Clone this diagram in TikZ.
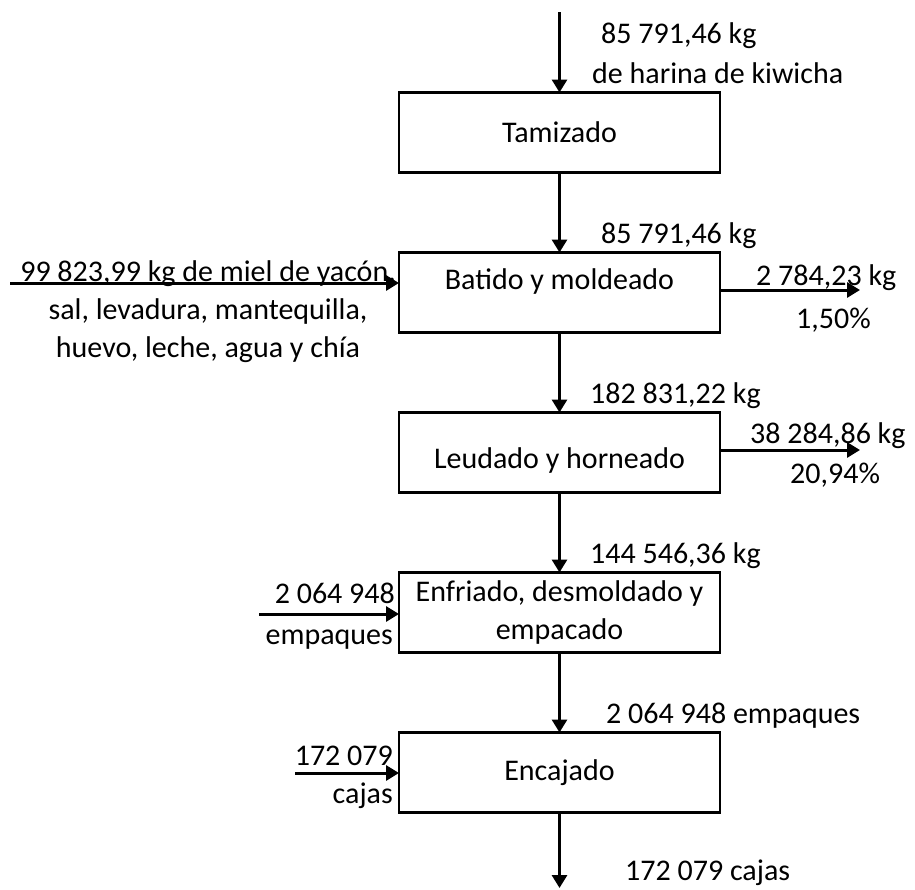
\documentclass[tikz,border=0pt]{standalone}
\usepackage{fontspec}
\setmainfont{Carlito}
\usetikzlibrary{arrows.meta,positioning}

\begin{document}
\begin{tikzpicture}[
  x=1pt, y=-1pt,
  font=\fontsize{30}{38}\selectfont,
  node distance=80pt,
  box/.style={draw, line width=2.5pt, minimum width=321pt, minimum height=80pt, inner sep=0pt, outer sep=0pt, align=center},
  arrow/.style={-{Triangle[length=13pt,width=15pt]}, line width=3pt},
  lbl/.style={inner sep=0pt}
]
\useasboundingbox (0,0) rectangle (915,889);
% process column
\node[box] (tam) at (559.5,132.5) {Tamizado};
\node[box, below=of tam, text depth=26pt] (bat) {Batido y moldeado};
\node[box, below=of bat, text height=37pt] (leu) {Leudado y horneado};
\node[box, below=of leu] (enf) {Enfriado, desmoldado y\\empacado};
\node[box, below=of enf] (enc) {Encajado};
% free ends
\coordinate (in0) at (559.5,12);
\coordinate (inB) at (10,283);
\coordinate (outB) at (860,290);
\coordinate (outL) at (860,450);
\coordinate (inE) at (259,614);
\coordinate (inC) at (295,773);
\coordinate (out0) at (559.5,888);
% flows
\draw[arrow] (in0) -- (tam);
\draw[arrow] (tam) -- (bat);
\draw[arrow] (bat) -- (leu);
\draw[arrow] (leu) -- (enf);
\draw[arrow] (enf) -- (enc);
\draw[arrow] (enc) -- (out0);
\draw[arrow] (inB) -- (inB -| bat.west);
\draw[arrow] (outB -| bat.east) -- (outB);
\draw[arrow] (outL -| leu.east) -- (outL);
\draw[arrow] (inE) -- (inE -| enf.west);
\draw[arrow] (inC) -- (inC -| enc.west);
% quantities
\node[lbl, anchor=base west] (m0) at (601,43) {85 791,46 kg};
\node[lbl, anchor=base west] (m0b) at (592,83) {de harina de kiwicha};
\node[lbl, anchor=base west] (m1) at (601,243) {85 791,46 kg};
\node[lbl, align=center] (insB) at (208,311.5) {99 823,99 kg de miel de yacón,\\sal, levadura, mantequilla,\\huevo, leche, agua y chía};
\node[lbl, anchor=base west] (resB) at (756,285) {2 784,23 kg};
\node[lbl, anchor=base west] (pctB) at (796,328) {1,50\%};
\node[lbl, anchor=base west] (m2) at (590,403) {182 831,22 kg};
\node[lbl, anchor=base west] (resL) at (750,443) {38 284,86 kg};
\node[lbl, anchor=base west] (pctL) at (790,483) {20,94\%};
\node[lbl, anchor=base west] (m3) at (590,563) {144 546,36 kg};
\node[lbl, anchor=base east] (insE) at (395,603) {2 064 948};
\node[lbl, anchor=base east] (insE2) at (393,644) {empaques};
\node[lbl, anchor=base west] (m4) at (606,723) {2 064 948 empaques};
\node[lbl, anchor=base east] (insC) at (393,765) {172 079};
\node[lbl, anchor=base east] (insC2) at (393,803) {cajas};
\node[lbl, anchor=base west] (m5) at (625,880) {172 079 cajas};
\end{tikzpicture}
\end{document}
